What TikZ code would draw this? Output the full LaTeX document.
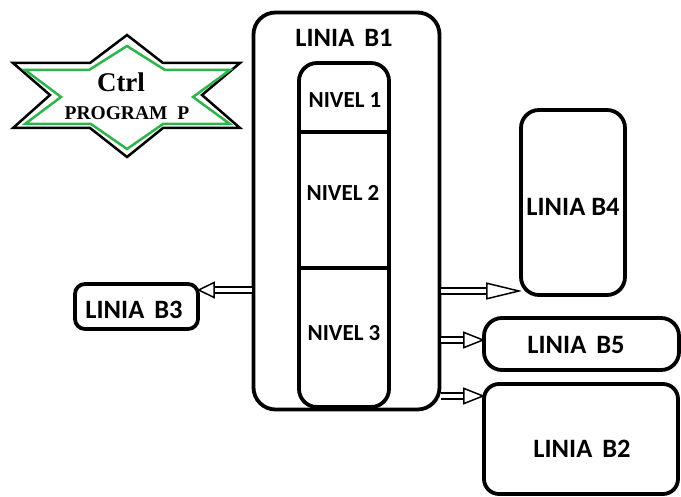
\documentclass[tikz,border=0pt]{standalone}
\usepackage{fontspec}
\setmainfont{Carlito}
\newfontfamily\tnr{Liberation Serif}
\usetikzlibrary{arrows.meta}
\definecolor{stargreen}{RGB}{45,180,75}
\tikzset{
  box/.style={draw, line width=3.8pt, rounded corners=#1, inner sep=0pt},
  box/.default=18pt,
  lbl/.style={font=\bfseries\fontsize{26.5}{28}\selectfont, inner sep=0pt},
  nlbl/.style={font=\bfseries\fontsize{23}{25}\selectfont, inner sep=0pt},
  dblarrow/.style={double, double distance=4.5pt, line width=1.5pt, shorten >=-3pt,
    -{Triangle[open, length=#1, width=17pt, line width=1.5pt]}},
  dblarrow/.default=22pt
}
\begin{document}
\begin{tikzpicture}[x=1pt, y=-1pt]
\useasboundingbox (0,0) rectangle (681,497);
% star
\draw[line width=2.5pt, line join=miter]
  (127,35) -- (163,63) -- (240,63) -- (202,95) -- (240,128) -- (163,128) -- (127,157)
  -- (90,128) -- (13,128) -- (50,95) -- (13,63) -- (90,63) -- cycle;
\draw[stargreen, line width=2.5pt, line join=miter]
  (127,46) -- (165,70) -- (230,70) -- (193,97) -- (230,124) -- (163,124) -- (127,149)
  -- (91,124) -- (25,124) -- (61,97) -- (25,70) -- (89,70) -- cycle;
\node[inner sep=0pt, font=\tnr\bfseries\fontsize{27}{29}\selectfont] (ctrl) at (121,82) {Ctrl};
\node[inner sep=0pt, font=\tnr\bfseries\fontsize{19.5}{21}\selectfont] (prog) at (127,113) {PROGRAM\hspace{10pt}P};
% B1
\node[box=22pt, minimum width=186pt, minimum height=397pt] (b1) at (346.5,211) {};
\node[lbl] (b1t) at (344,38) {LINIA\hspace{10pt}B1};
\node[box=18pt, minimum width=90pt, minimum height=344pt] (col) at (344,235) {};
\draw[line width=3.8pt] (col.west |- 0,132) coordinate (d1a) -- (col.east |- 0,132) coordinate (d1b);
\draw[line width=3.8pt] (col.west |- 0,268) coordinate (d2a) -- (col.east |- 0,268) coordinate (d2b);
\node[nlbl] (n1) at (345,100) {NIVEL 1};
\node[nlbl] (n2) at (343,193) {NIVEL 2};
\node[nlbl] (n3) at (344,333) {NIVEL 3};
% others
\node[box=18pt, minimum width=104pt, minimum height=185pt] (b4) at (573,202.5) {};
\node[lbl] at (573,207) {LINIA B4};
\node[box=18pt, minimum width=195pt, minimum height=52pt] (b5) at (581.5,344) {};
\node[lbl] at (576,345) {LINIA\hspace{10pt}B5};
\node[box=15pt, minimum width=194pt, minimum height=110pt] (b2) at (581,439) {};
\node[lbl] at (582,449) {LINIA\hspace{10pt}B2};
\node[box=10pt, minimum width=123pt, minimum height=45pt] (b3) at (136.5,306.5) {};
\node[lbl] at (134,310) {LINIA\hspace{10pt}B3};
% arrows
\draw[dblarrow=18pt] (b1.west |- 0,290) -- (b3.east |- 0,290);
\draw[dblarrow=36pt] (b1.east |- 0,291) -- (b4.west |- 0,291);
\draw[dblarrow=22pt] (b1.east |- 0,340) -- (b5.west |- 0,340);
\draw[dblarrow=22pt] (b1.east |- 0,396) -- (b2.west |- 0,396);
\end{tikzpicture}
\end{document}
